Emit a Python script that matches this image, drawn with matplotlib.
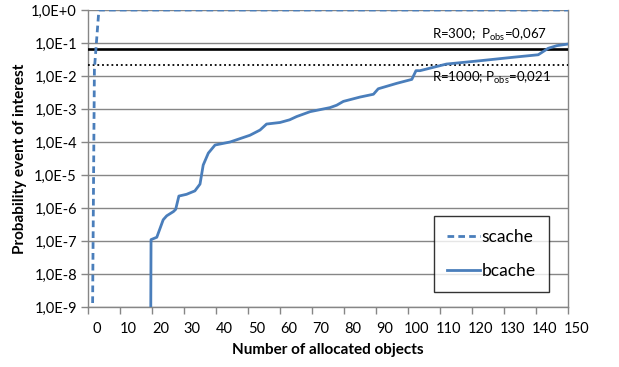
import numpy as np
import matplotlib
matplotlib.use("Agg")
import matplotlib.pyplot as plt
import matplotlib.transforms as mtransforms
from matplotlib.ticker import FixedLocator, NullLocator

plt.rcParams['font.family'] = ['Lato', 'DejaVu Sans']

# ===== DATA =====
scache_x = [1.2, 2.0, 3.4, 150]
scache_y = [1e-12, 1.6e-2, 1.0, 1.0]

bcache_x = [19.5, 19.7, 21.5, 23.5, 24.6, 26.7, 27.4, 28.4, 30.8, 33.4,
            35.0, 36.0, 37.6, 39.7, 44.4, 50.6, 53.75, 55.8, 60.0, 63.0,
            65.2, 69.4, 75.6, 77.7, 79.8, 85.0, 89.2, 90.7, 96.5, 101.2,
            102.5, 103.75, 112.0, 122.5, 132.9, 140.7, 143.8, 146.5, 150.0]
bcache_y = [1e-12, 1.1e-7, 1.3e-7, 4.4e-7, 5.8e-7, 7.8e-7, 9.1e-7, 2.3e-6, 2.6e-6, 3.3e-6,
            5.3e-6, 2.0e-5, 4.6e-5, 8.1e-5, 1.0e-4, 1.6e-4, 2.3e-4, 3.5e-4, 3.9e-4, 4.7e-4,
            5.9e-4, 8.3e-4, 1.1e-3, 1.3e-3, 1.7e-3, 2.3e-3, 2.8e-3, 4.1e-3, 6.0e-3, 7.9e-3,
            1.45e-2, 1.45e-2, 2.3e-2, 2.9e-2, 3.7e-2, 4.4e-2, 6.9e-2, 8.3e-2, 9.3e-2]

p_obs_300 = 0.067
p_obs_1000 = 0.021

x_ticks = list(range(0, 151, 10))
y_ticks = [10.0 ** e for e in range(-9, 1)]
y_labels = ["1,0E-9", "1,0E-8", "1,0E-7", "1,0E-6", "1,0E-5",
            "1,0E-4", "1,0E-3", "1,0E-2", "1,0E-1", "1,0E+0"]

blue = "#4a7ebb"
grid = "#868686"

# ===== PLOT =====
fig = plt.figure(figsize=(6.19, 3.67), dpi=100)
ax = fig.add_axes([88 / 619, 1 - 307 / 367, 480 / 619, 297 / 367])

ax.set_yscale("log")
ax.set_xlim(0, 150)
ax.set_ylim(1e-9, 1.0)

ax.yaxis.set_major_locator(FixedLocator(y_ticks))
ax.yaxis.set_minor_locator(NullLocator())
ax.set_yticklabels(y_labels)
ax.set_xticks(x_ticks)

ax.grid(axis="y", color=grid, linewidth=1.0)
ax.set_axisbelow(True)

for s in ["left", "bottom", "right"]:
    ax.spines[s].set_color(grid)
    ax.spines[s].set_linewidth(1.0)
ax.spines["top"].set_visible(False)

ax.tick_params(axis="both", colors=grid, labelcolor="black", labelsize=10.5,
               length=5, width=1.0, direction="out")
ax.tick_params(axis="x", pad=6)
ax.tick_params(axis="y", pad=3)

# Excel puts category labels a little right of the tick
offset = mtransforms.ScaledTranslation(6 / 72, 0, fig.dpi_scale_trans)
for lab in ax.get_xticklabels():
    lab.set_transform(lab.get_transform() + offset)

ax.axhline(p_obs_300, color="black", linewidth=1.9, zorder=3)
ax.axhline(p_obs_1000, color="black", linewidth=1.3, linestyle=(0, (1, 1.6)), zorder=3)

ax.plot(scache_x, scache_y, color=blue, linewidth=2.0, linestyle=(0, (2.4, 1.5)),
        label="scache", zorder=4)
ax.plot(bcache_x, bcache_y, color=blue, linewidth=2.0, label="bcache", zorder=4)

ax.text(107.5, 0.17, r"R=300;  P$_{\mathregular{obs}}$=0,067", fontsize=9.5,
        va="center", ha="left")
ax.text(107.5, 0.0087, r"R=1000; P$_{\mathregular{obs}}$=0,021", fontsize=9.5,
        va="center", ha="left")

ax.set_xlabel("Number of allocated objects", fontsize=11, fontweight="bold", labelpad=5)
ax.set_ylabel("Probability event of interest", fontsize=11, fontweight="bold", labelpad=3)

leg = ax.legend(loc="upper left", bbox_to_anchor=(434 / 619, 1 - 216 / 367),
                bbox_transform=fig.transFigure, fontsize=12.5, frameon=True,
                fancybox=False, handlelength=1.9, handletextpad=0.1,
                labelspacing=1.05, borderpad=0.75, borderaxespad=0)
leg.get_frame().set_edgecolor("black")
leg.get_frame().set_linewidth(1.0)

fig.savefig("out.png", dpi=100)
